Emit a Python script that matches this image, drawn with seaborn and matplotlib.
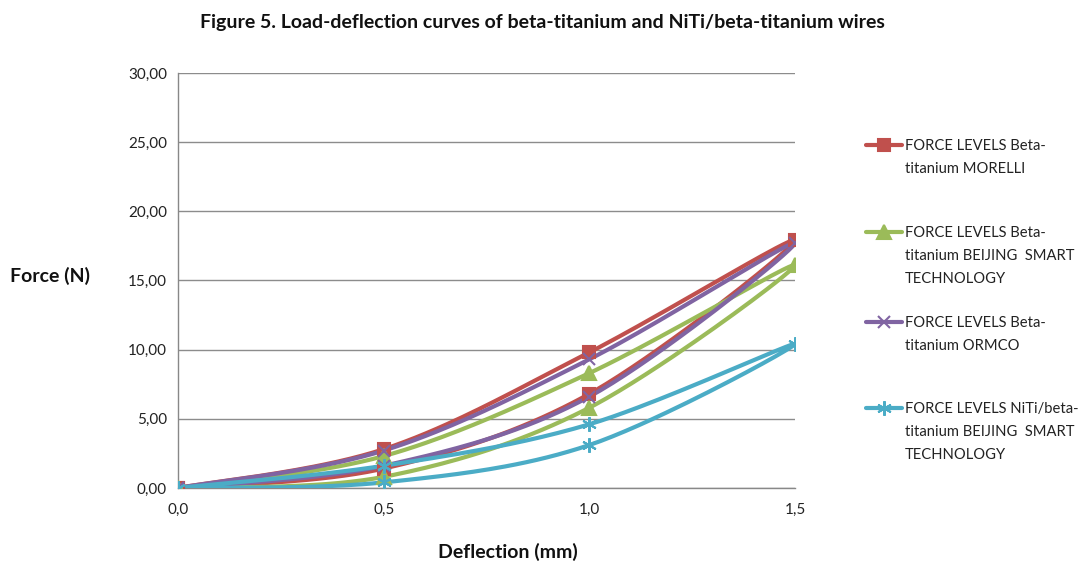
import numpy as np
import pandas as pd
import matplotlib
matplotlib.use("Agg")
import matplotlib.pyplot as plt
from matplotlib.lines import Line2D
import seaborn as sns

# ---- data ----
deflection = [0.0, 0.5, 1.0, 1.5, 1.0, 0.5, 0.0]
morelli = [0.0, 2.8, 9.8, 17.9, 6.8, 1.4, 0.0]
beijing_beta = [0.0, 2.3, 8.3, 16.1, 5.8, 0.8, 0.0]
ormco = [0.0, 2.7, 9.3, 17.7, 6.6, 1.6, 0.0]
niti_beta = [0.0, 1.6, 4.6, 10.4, 3.1, 0.4, 0.0]

series_names = [
    "FORCE LEVELS Beta-\ntitanium MORELLI",
    "FORCE LEVELS Beta-\ntitanium BEIJING  SMART\nTECHNOLOGY",
    "FORCE LEVELS Beta-\ntitanium ORMCO",
    "FORCE LEVELS NiTi/beta-\ntitanium BEIJING  SMART\nTECHNOLOGY",
]
series_values = [morelli, beijing_beta, ormco, niti_beta]
colors = ["#C0504D", "#9BBB59", "#8064A2", "#4BACC6"]
markers = ["s", "^", "x", (6, 2, 0)]
marker_sizes = [8.5, 9.5, 8.5, 10.5]

x_ticks = [0.0, 0.5, 1.0, 1.5]
x_tick_labels = ["0,0", "0,5", "1,0", "1,5"]
y_ticks = [0, 5, 10, 15, 20, 25, 30]
y_tick_labels = ["0,00", "5,00", "10,00", "15,00", "20,00", "25,00", "30,00"]


def smooth(xs, ys, n=40):
    """Excel-like smoothed line (Catmull-Rom Bezier) through the points."""
    P = np.column_stack([xs, ys]).astype(float)
    out = []
    m = len(P)
    for i in range(m - 1):
        p0 = P[i - 1] if i > 0 else P[i]
        p1 = P[i]
        p2 = P[i + 1]
        p3 = P[i + 2] if i + 2 < m else P[i + 1]
        c1 = p1 + (p2 - p0) / 6.0
        c2 = p2 - (p3 - p1) / 6.0
        t = np.linspace(0, 1, n)[:, None]
        seg = ((1 - t) ** 3) * p1 + 3 * ((1 - t) ** 2) * t * c1 + 3 * (1 - t) * t ** 2 * c2 + t ** 3 * p2
        out.append(seg if i == 0 else seg[1:])
    return np.vstack(out)


sns.set_style("white")
plt.rcParams["font.family"] = ["Lato", "DejaVu Sans"]

fig = plt.figure(figsize=(10.86, 5.68), dpi=100)
ax = fig.add_axes([0.164, 0.141, 0.568, 0.7305])

for name, vals, col, mk, ms in zip(series_names, series_values, colors, markers, marker_sizes):
    curve = smooth(deflection, vals)
    df = pd.DataFrame({"x": curve[:, 0], "y": curve[:, 1]})
    sns.lineplot(data=df, x="x", y="y", sort=False, estimator=None, ax=ax,
                 color=col, linewidth=3.0, legend=False, zorder=3)
    ax.plot(deflection, vals, linestyle="none", marker=mk, markersize=ms,
            color=col, markeredgecolor=col, markeredgewidth=1.5, zorder=4)

ax.set_xlim(0, 1.5)
ax.set_ylim(0, 30)
ax.set_xticks(x_ticks)
ax.set_xticklabels(x_tick_labels)
ax.set_yticks(y_ticks)
ax.set_yticklabels(y_tick_labels)
ax.tick_params(axis="both", labelsize=11, colors="#222222", length=4, direction="out",
               color="#888888", width=1)
ax.tick_params(axis="x", pad=7)
ax.tick_params(axis="y", pad=4)
ax.yaxis.grid(True, color="#8c8c8c", linewidth=1.0)
ax.xaxis.grid(False)
for s in ["top", "right"]:
    ax.spines[s].set_visible(False)
for s in ["left", "bottom"]:
    ax.spines[s].set_color("#888888")
    ax.spines[s].set_linewidth(1.0)
ax.set_xlabel("")
ax.set_ylabel("")

fig.text(0.4995, 0.96, "Figure 5. Load-deflection curves of beta-titanium and NiTi/beta-titanium wires",
         ha="center", va="center", fontsize=14, fontweight="bold", color="#111111")
fig.text(0.4675, 0.028, "Deflection (mm)", ha="center", va="center", fontsize=14,
         fontweight="bold", color="#111111")
fig.text(0.046, 0.515, "Force (N)", ha="center", va="center", fontsize=14,
         fontweight="bold", color="#111111")

# legend (Excel-style: handle aligned with first text line)
legend_y_px = [145, 232, 322, 408]
for name, col, mk, ms, ypx in zip(series_names, colors, markers, marker_sizes, legend_y_px):
    yf = 1 - ypx / 568.0
    x0, x1 = 866 / 1086.0, 902 / 1086.0
    h = Line2D([x0, (x0 + x1) / 2, x1], [yf, yf, yf], transform=fig.transFigure,
               color=col, linewidth=3.0, marker=mk, markersize=ms, markevery=[1],
               markeredgecolor=col, markeredgewidth=1.5)
    fig.add_artist(h)
    fig.text(905 / 1086.0, yf + 6 / 568.0, name, ha="left", va="top", fontsize=10.6,
             color="#222222", linespacing=1.82)

fig.savefig("out.png", dpi=100)
